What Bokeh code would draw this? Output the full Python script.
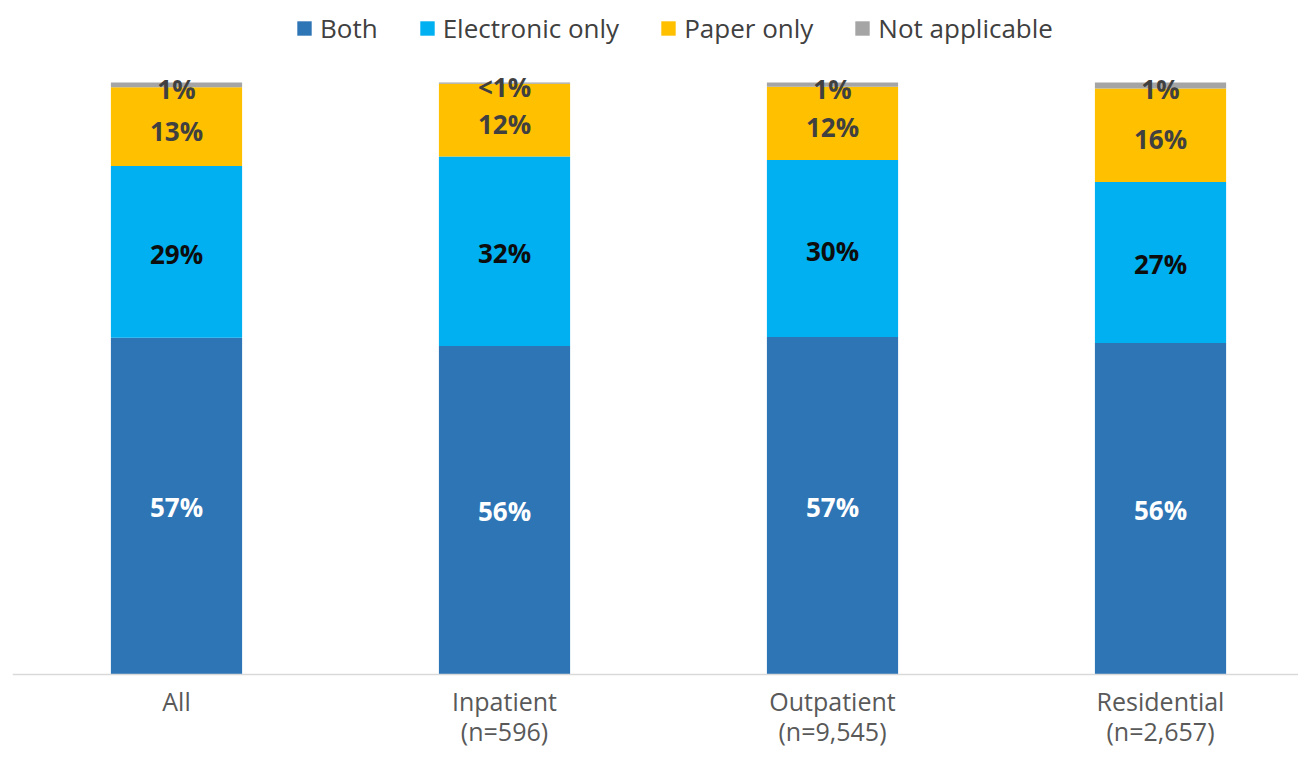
from bokeh.plotting import figure
from bokeh.models import ColumnDataSource, Range1d, Legend, LegendItem, Span
from bokeh.core.properties import value
from bokeh.embed import file_html
from bokeh.resources import INLINE

categories = ["All", "Inpatient", "Outpatient", "Residential"]
tick_labels = ["All", "Inpatient\n(n=596)", "Outpatient\n(n=9,545)", "Residential\n(n=2,657)"]
series = ["Both", "Electronic only", "Paper only", "Not applicable"]
both = [56.9, 55.5, 57.0, 56.0]
electronic = [29.0, 32.0, 29.9, 27.2]
paper = [13.3, 12.3, 12.4, 15.8]
not_applicable = [0.8, 0.2, 0.7, 1.0]
both_labels = ["57%", "56%", "57%", "56%"]
electronic_labels = ["29%", "32%", "30%", "27%"]
paper_labels = ["13%", "12%", "12%", "16%"]
na_labels = ["1%", "<1%", "1%", "1%"]

colors = ["#2E75B6", "#00B0F0", "#FFC000", "#A5A5A5"]
label_colors = ["#FFFFFF", "#0D0D0D", "#404040", "#404040"]
label_offsets = [1, 2, 4, 4]
FONT = "Open Sans"

x = list(range(len(categories)))
keys = ["both", "electronic", "paper", "na"]
src = ColumnDataSource(dict(x=x, both=both, electronic=electronic, paper=paper, na=not_applicable))

p = figure(width=1298, height=748, output_backend="svg", toolbar_location=None,
           x_range=Range1d(-0.5, 3.4207), y_range=Range1d(-12.5, 113.85),
           min_border_left=12, min_border_right=0, min_border_top=0, min_border_bottom=0)
p.outline_line_color = None
p.grid.visible = False
p.axis.visible = False

rends = p.vbar_stack(keys, x="x", width=0.4, color=colors, line_color=None, source=src)

# baseline (category axis line)
p.add_layout(Span(location=0, dimension="width", line_color="#D9D9D9", line_width=1.5))

values = [both, electronic, paper, not_applicable]
texts = [both_labels, electronic_labels, paper_labels, na_labels]
bottom = [0.0] * len(x)
for i in range(4):
    centers = [b + v / 2 for b, v in zip(bottom, values[i])]
    ls = ColumnDataSource(dict(x=x, y=centers, t=texts[i]))
    p.text(x="x", y="y", text="t", source=ls, text_align="center", text_baseline="middle",
           text_font=value(FONT), text_font_style="bold", text_font_size="26px",
           text_color=label_colors[i], y_offset=label_offsets[i])
    bottom = [b + v for b, v in zip(bottom, values[i])]

# category labels under the baseline
tick_src = ColumnDataSource(dict(x=x, y=[0] * len(x), t=tick_labels))
p.text(x="x", y="y", text="t", source=tick_src, y_offset=10,
       text_align="center", text_baseline="top", text_font=value(FONT),
       text_font_size="25px", text_color="#595959", text_line_height=0.87)

legend = Legend(items=[LegendItem(label=s, renderers=[r]) for s, r in zip(series, rends)],
                orientation="horizontal", location=(283, 702), margin=0, padding=0,
                spacing=40, glyph_width=18, glyph_height=18, label_standoff=7,
                label_text_font=FONT, label_text_font_size="26px", label_text_color="#404040",
                border_line_alpha=0, background_fill_alpha=0)
p.add_layout(legend, "center")

open("out.html", "w").write(file_html(p, INLINE))
